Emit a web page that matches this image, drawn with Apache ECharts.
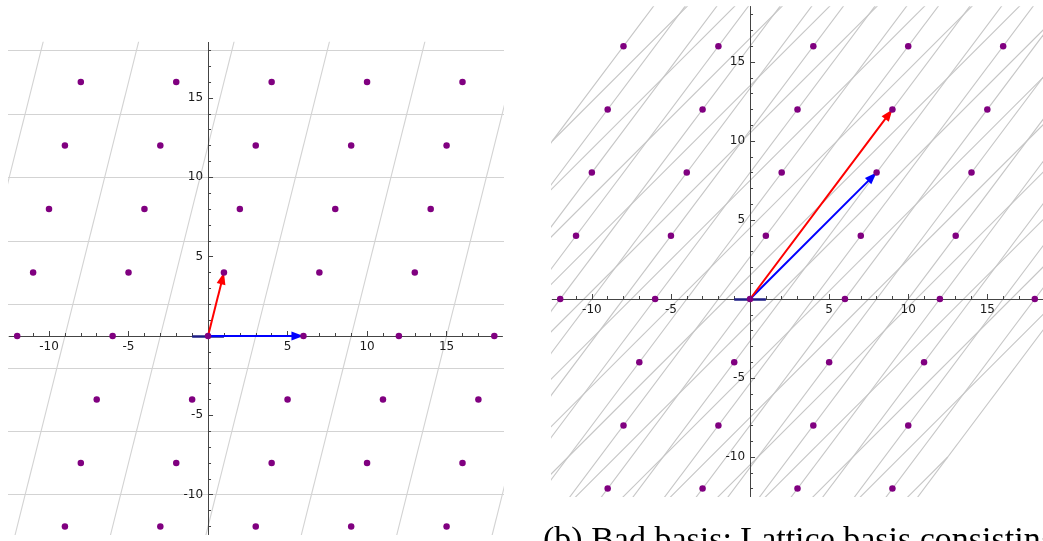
<!DOCTYPE html>
<html><head><meta charset="utf-8">
<script src="https://cdn.jsdelivr.net/npm/echarts@6/dist/echarts.min.js"></script>
<style>html,body{margin:0;padding:0;background:#fff;overflow:hidden}#c{width:1043px;height:541px}</style>
</head><body><div id="c"></div>
<script>
// ---------- data ----------
const goodBasis = [[1, 4], [6, 0]];          // (a) good basis: red, blue
const badBasis = [[9, 12], [8, 8]];          // (b) bad basis: red, blue
const rowY = [16, 12, 8, 4, 0, -4, -8, -12]; // lattice point rows
const leftRowX = [
  [-8, -2, 4, 10, 16], [-9, -3, 3, 9, 15], [-10, -4, 2, 8, 14], [-11, -5, 1, 7, 13],
  [-12, -6, 0, 6, 12, 18], [-7, -1, 5, 11, 17], [-8, -2, 4, 10, 16], [-9, -3, 3, 9, 15]
];
const rightRowX = [
  [-8, -2, 4, 10, 16], [-9, -3, 3, 9, 15], [-10, -4, 2, 8, 14], [-11, -5, 1, 7, 13],
  [-12, -6, 0, 6, 12, 18], [-7, -1, 5, 11], [-8, -2, 4, 10], [-9, -3, 3, 9]
];
const cellIndexRange = [-10, 9];      // lattice coefficients whose cells are outlined
const leftCellOffset = [-0.5, -0.5];  // cell start, in basis coefficients (red, blue)
const rightCellOffset = [-0.5, 0];
const originStub = [[-1, 0], [1, 0]];
const axisRange = [-12.5, 18.5];
const tickMajor = [-10, -5, 0, 5, 10, 15];
const tickMinor = [-12, -11, -10, -9, -8, -7, -6, -5, -4, -3, -2, -1, 0, 1, 2, 3, 4, 5, 6, 7, 8, 9, 10, 11, 12, 13, 14, 15, 16, 17, 18];
const tickLabels = [-10, -5, 5, 10, 15];
const caption = '(b) Bad basis: Lattice basis consisting';

// ---------- layout ----------
const panels = [
  { left: 9.25, top: 42.4, width: 493, height: 492, gridColor: '#d3d3d3' },
  { left: 552.3, top: 6.7, width: 490.4, height: 489.8, gridColor: '#c6c6c6' }
];

// ---------- helpers ----------
function rowsToPoints(rows) {
  const out = [];
  rows.forEach((xs, r) => xs.forEach(x => out.push([x, rowY[r]])));
  return out;
}
function comb(b1, b2, s, t) { return [s * b1[0] + t * b2[0], s * b1[1] + t * b2[1]]; }
function cellLines(b1, b2, off) {
  const lo = cellIndexRange[0], hi = cellIndexRange[1] + 1;
  const out = [];
  for (let m = lo; m <= hi; m++) {
    out.push({ coords: [comb(b1, b2, m + off[0], lo + off[1]), comb(b1, b2, m + off[0], hi + off[1])] });
  }
  for (let n = lo; n <= hi; n++) {
    out.push({ coords: [comb(b1, b2, lo + off[0], n + off[1]), comb(b1, b2, hi + off[0], n + off[1])] });
  }
  return out;
}
function arrowItem(params, api) {
  const p0 = api.coord([api.value(0), api.value(1)]);
  const p1 = api.coord([api.value(2), api.value(3)]);
  const color = api.visual('color');
  const dx = p1[0] - p0[0], dy = p1[1] - p0[1];
  const L = Math.sqrt(dx * dx + dy * dy);
  const ux = dx / L, uy = dy / L, nx = -uy, ny = ux;
  const hl = 12, hw = 4.5;
  const bx = p1[0] - ux * hl, by = p1[1] - uy * hl;
  return {
    type: 'group', children: [
      { type: 'line', shape: { x1: p0[0], y1: p0[1], x2: bx + ux * 2, y2: by + uy * 2 }, style: { stroke: color, lineWidth: 2 } },
      { type: 'polygon', shape: { points: [[p1[0], p1[1]], [bx + nx * hw, by + ny * hw], [bx - nx * hw, by - ny * hw]] }, style: { fill: color } }
    ]
  };
}

const axisColor = '#444';
const labelFont = { color: '#1a1a1a', fontSize: 12, fontFamily: 'DejaVu Sans' };
const grids = [], xAxis = [], yAxis = [];
function hiddenAxis(g) {
  return { gridIndex: g, type: 'value', min: axisRange[0], max: axisRange[1], show: false };
}
function visibleAxis(g, pos, customTicks, len, labels) {
  return {
    gridIndex: g, type: 'value', min: axisRange[0], max: axisRange[1], position: pos, z: 3,
    axisLine: { show: true, onZero: false, lineStyle: { color: axisColor, width: 1 } },
    splitLine: { show: false },
    axisTick: { show: true, inside: true, length: len, customValues: customTicks, lineStyle: { color: axisColor, width: 1 } },
    axisLabel: labels ? Object.assign({ show: true, customValues: tickLabels, margin: 5 }, labelFont) : { show: false }
  };
}
function buildPanel(p) {
  const span = axisRange[1] - axisRange[0];
  const zeroY = p.top + p.height * (axisRange[1] / span);
  const zeroX = p.left + p.width * (-axisRange[0] / span);
  const gData = grids.length;
  grids.push({ left: p.left, top: p.top, width: p.width, height: p.height, outerBoundsMode: 'none', containLabel: false });
  const axIdx = xAxis.length;
  xAxis.push(hiddenAxis(gData)); yAxis.push(hiddenAxis(gData));
  // x-axis grid: its bottom edge lies on y = 0
  const gX = grids.length;
  grids.push({ left: p.left, top: p.top, width: p.width, height: zeroY - p.top, outerBoundsMode: 'none', containLabel: false });
  xAxis.push(visibleAxis(gX, 'bottom', tickMajor, 5, true));
  xAxis.push(visibleAxis(gX, 'bottom', tickMinor, 3, false));
  yAxis.push(hiddenAxis(gX));
  // y-axis grid: its left edge lies on x = 0
  const gY = grids.length;
  grids.push({ left: zeroX, top: p.top, width: p.left + p.width - zeroX, height: p.height, outerBoundsMode: 'none', containLabel: false });
  yAxis.push(visibleAxis(gY, 'left', tickMajor, 5, true));
  yAxis.push(visibleAxis(gY, 'left', tickMinor, 3, false));
  xAxis.push(hiddenAxis(gY));
  while (xAxis.length < yAxis.length) xAxis.push(hiddenAxis(gY));
  while (yAxis.length < xAxis.length) yAxis.push(hiddenAxis(gX));
  return axIdx;
}

function panelSeries(ax, basis, off, points, gridColor) {
  return [
    { type: 'lines', coordinateSystem: 'cartesian2d', xAxisIndex: ax, yAxisIndex: ax, clip: true, silent: true,
      polyline: false, symbol: 'none', lineStyle: { color: gridColor, width: 1.1, opacity: 1 },
      data: cellLines(basis[0], basis[1], off), z: 1 },
    { type: 'lines', coordinateSystem: 'cartesian2d', xAxisIndex: ax, yAxisIndex: ax, silent: true,
      symbol: 'none', lineStyle: { color: '#1c1c85', width: 2.5, opacity: 1 }, data: [{ coords: originStub }], z: 4 },
    { type: 'custom', xAxisIndex: ax, yAxisIndex: ax, renderItem: arrowItem, silent: true, clip: false,
      itemStyle: { color: '#0000ff' }, encode: { x: [0, 2], y: [1, 3] },
      data: [[0, 0, basis[1][0], basis[1][1]]], z: 5 },
    { type: 'custom', xAxisIndex: ax, yAxisIndex: ax, renderItem: arrowItem, silent: true, clip: false,
      itemStyle: { color: '#ff0000' }, encode: { x: [0, 2], y: [1, 3] },
      data: [[0, 0, basis[0][0], basis[0][1]]], z: 6 },
    { type: 'scatter', xAxisIndex: ax, yAxisIndex: ax, symbol: 'circle', symbolSize: 6.5, silent: true,
      itemStyle: { color: '#800080', opacity: 1 }, data: points, z: 7 }
  ];
}

const axLeft = buildPanel(panels[0]);
const axRight = buildPanel(panels[1]);

const chart = echarts.init(document.getElementById('c'), null, { renderer: 'canvas' });
chart.setOption({
  animation: false,
  backgroundColor: '#ffffff',
  grid: grids,
  xAxis: xAxis,
  yAxis: yAxis,
  series: panelSeries(axLeft, goodBasis, leftCellOffset, rowsToPoints(leftRowX), panels[0].gridColor)
    .concat(panelSeries(axRight, badBasis, rightCellOffset, rowsToPoints(rightRowX), panels[1].gridColor)),
  graphic: [
    { type: 'text', left: 543, top: 524, silent: true,
      style: { text: caption, fill: '#000', font: '34px "Liberation Serif"' } }
  ]
});
</script></body></html>
